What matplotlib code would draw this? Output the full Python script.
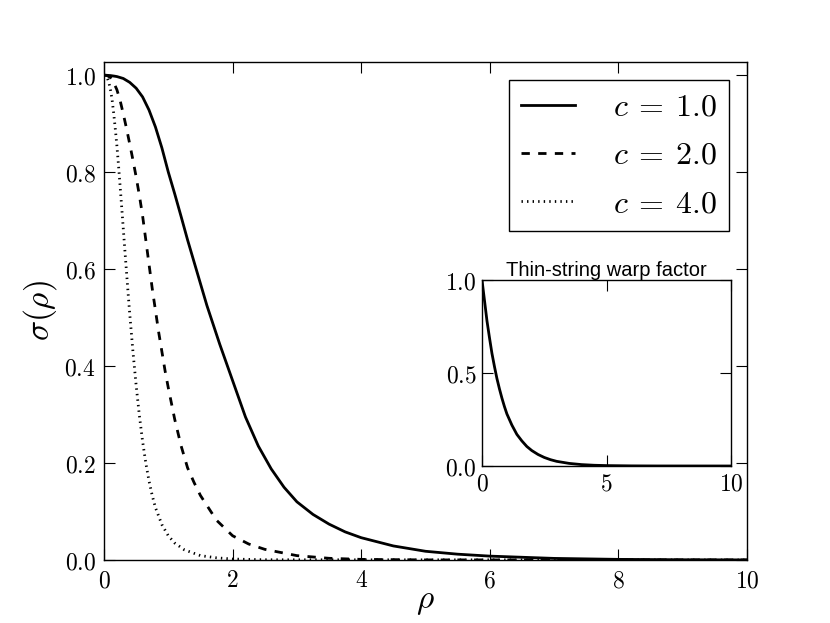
import numpy as np
import matplotlib
matplotlib.use('Agg')
import matplotlib.pyplot as plt
from matplotlib.ticker import FuncFormatter

plt.rcParams['mathtext.fontset'] = 'cm'
plt.rcParams['lines.scale_dashes'] = False

# values
rho_c1 = [0.0, 0.1, 0.2, 0.3, 0.4, 0.5, 0.6, 0.7, 0.8, 0.9, 1.0, 1.1, 1.2, 1.3, 1.4,
          1.6, 1.8, 2.0, 2.2, 2.4, 2.6, 2.8, 3.0, 3.25, 3.5, 3.75, 4.0, 4.5, 5.0,
          5.5, 6.0, 7.0, 8.0, 9.0, 10.0]
sig_c1 = [1.0, 0.999, 0.997, 0.993, 0.985, 0.973, 0.955, 0.928, 0.893, 0.85, 0.80,
          0.755, 0.708, 0.66, 0.615, 0.525, 0.445, 0.37, 0.295, 0.235, 0.188, 0.15,
          0.12, 0.094, 0.074, 0.058, 0.046, 0.029, 0.018, 0.012, 0.008, 0.0033,
          0.0013, 0.0005, 0.0002]

rho_c2 = [0.0, 0.05, 0.1, 0.15, 0.2, 0.25, 0.3, 0.35, 0.4, 0.45, 0.5, 0.55, 0.6,
          0.65, 0.7, 0.75, 0.8, 0.85, 0.9, 0.95, 1.0, 1.1, 1.2, 1.3, 1.4, 1.5,
          1.75, 2.0, 2.25, 2.5, 3.0, 3.5, 4.0, 5.0, 10.0]
sig_c2 = [1.0, 0.999, 0.995, 0.985, 0.97, 0.948, 0.92, 0.89, 0.858, 0.825, 0.79,
          0.752, 0.71, 0.66, 0.61, 0.56, 0.515, 0.47, 0.43, 0.39, 0.355, 0.29,
          0.235, 0.19, 0.16, 0.133, 0.082, 0.05, 0.033, 0.022, 0.009, 0.0035,
          0.0013, 0.0002, 0.0]

rho_c4 = [0.0, 0.025, 0.05, 0.075, 0.1, 0.125, 0.15, 0.175, 0.2, 0.225, 0.25, 0.275,
          0.3, 0.325, 0.35, 0.375, 0.4, 0.45, 0.5, 0.55, 0.6, 0.65, 0.7, 0.75, 0.8,
          0.9, 1.0, 1.1, 1.25, 1.5, 1.75, 2.0, 2.5, 10.0]
sig_c4 = [1.0, 0.999, 0.995, 0.985, 0.97, 0.95, 0.922, 0.89, 0.855, 0.815, 0.772,
          0.728, 0.683, 0.638, 0.594, 0.55, 0.508, 0.43, 0.36, 0.298, 0.245, 0.2,
          0.163, 0.133, 0.108, 0.073, 0.05, 0.035, 0.021, 0.009, 0.0045, 0.002,
          0.0005, 0.0]

rho_in = [0.0, 0.1, 0.2, 0.3, 0.4, 0.5, 0.6, 0.7, 0.8, 0.9, 1.0, 1.2, 1.4, 1.6, 1.8,
          2.0, 2.25, 2.5, 2.75, 3.0, 3.5, 4.0, 4.5, 5.0, 6.0, 7.0, 10.0]
sig_in = [1.0, 0.89, 0.78, 0.69, 0.605, 0.535, 0.47, 0.415, 0.365, 0.32, 0.28, 0.22,
          0.17, 0.135, 0.105, 0.083, 0.062, 0.046, 0.034, 0.025, 0.014, 0.0075,
          0.004, 0.0022, 0.0007, 0.0002, 0.0]

labels = [r'$c\:=\:1.0$', r'$c\:=\:2.0$', r'$c\:=\:4.0$']

fig = plt.figure(figsize=(8.3, 6.23), dpi=100)
ax = fig.add_axes([104/830, 63/623, 643/830, 498/623])

ax.plot(rho_c1, sig_c1, color='k', lw=2, label=labels[0])
ax.plot(rho_c2, sig_c2, color='k', lw=2, linestyle=(0, (6, 6)), label=labels[1])
ax.plot(rho_c4, sig_c4, color='k', lw=2, linestyle=(0, (1, 3)), label=labels[2])

ax.set_xlim(0, 10)
ax.set_ylim(0, 1.027)
ax.set_xticks([0, 2, 4, 6, 8, 10])
ax.set_yticks([0, 0.2, 0.4, 0.6, 0.8, 1.0])
ax.xaxis.set_major_formatter(FuncFormatter(lambda v, p: r'$%d$' % v))
ax.yaxis.set_major_formatter(FuncFormatter(lambda v, p: r'$%.1f$' % v))
ax.tick_params(direction='in', top=True, right=True, length=8, width=0.8,
               labelsize=17, pad=6)
for s in ax.spines.values():
    s.set_linewidth(1)
ax.set_xlabel(r'$\rho$', fontsize=24, labelpad=-6)
ax.set_ylabel(r'$\sigma(\rho)$', fontsize=24, labelpad=4)

leg = ax.legend(loc='upper right', fontsize=23, handlelength=1.7, borderaxespad=0.55,
                labelspacing=0.54, handletextpad=1.2, borderpad=0.38,
                fancybox=False, framealpha=1)
leg.get_frame().set_edgecolor('k')
leg.get_frame().set_linewidth(1)

# inset
ins = fig.add_axes([482/830, 157/623, 249/830, 186/623])
ins.plot(rho_in, sig_in, color='k', lw=2)
ins.set_xlim(0, 10)
ins.set_ylim(0, 1)
ins.set_xticks([0, 5, 10])
ins.set_yticks([0, 0.5, 1.0])
ins.xaxis.set_major_formatter(FuncFormatter(lambda v, p: r'$%d$' % v))
ins.yaxis.set_major_formatter(FuncFormatter(lambda v, p: r'$%.1f$' % v))
ins.tick_params(direction='in', top=True, right=True, length=8, width=0.8,
                labelsize=17, pad=4)
for s in ins.spines.values():
    s.set_linewidth(1)
ins.set_title('Thin-string warp factor', fontsize=14.5, family='Liberation Sans', pad=3)

fig.savefig('out.png', dpi=100)
